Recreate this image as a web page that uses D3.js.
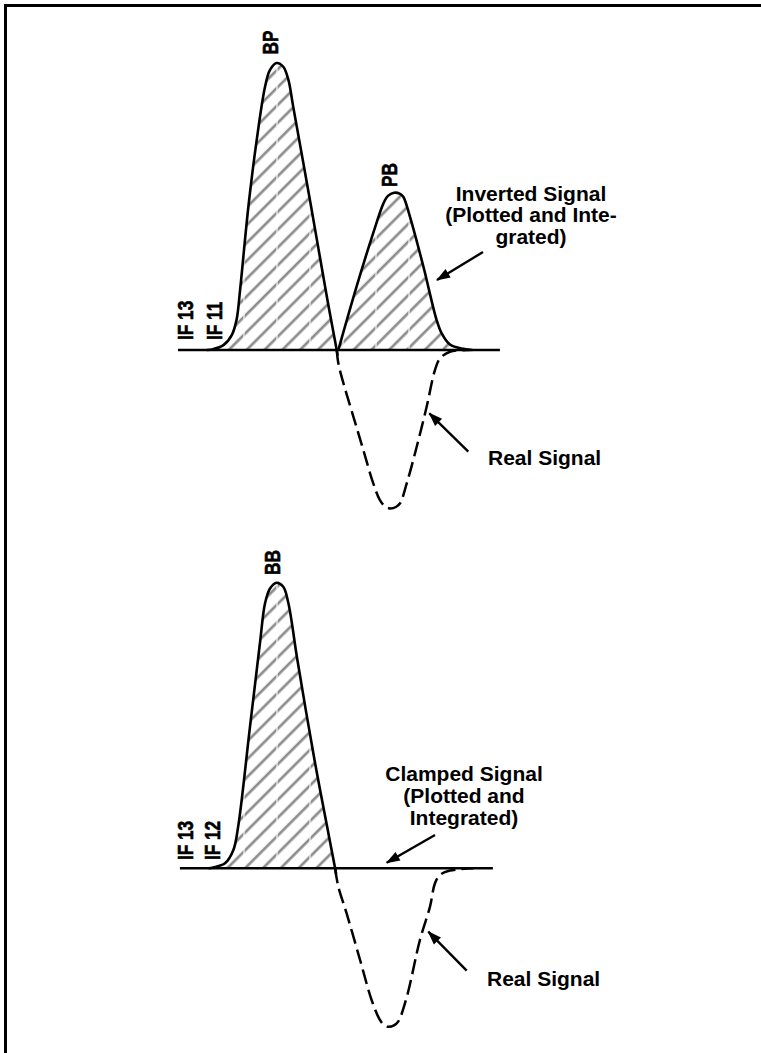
<!DOCTYPE html>
<html><head><meta charset="utf-8">
<script src="https://cdn.jsdelivr.net/npm/d3@7"></script>
<style>html,body{margin:0;padding:0;background:#fff}svg{display:block}</style>
</head><body>
<script>
// ---------- data (time t, signal v) ----------
const topInvertedBP = [[9.0,0],[11.0,0.3],[14.2,1.7],[16.8,5.2],[18.3,10.5],[19.4,20.9],[22.0,50.0],[24.6,73.2],[27.2,91.7],[28.75,97.6],[30.8,100],[32.9,98.7],[34.5,94.1],[36.0,84.8],[41.6,49.9],[46.7,17.4],[49.6,0],[49.9,-2]];
const topInvertedPB = [[50.1,0],[55.8,22.1],[61.0,40.7],[64.2,51.1],[65.6,53.7],[67.5,54.8],[69.4,54.4],[70.4,53.4],[72.5,46.4],[76.7,29.0],[80.8,10.5],[82.4,5.8],[85.0,1.9],[89.2,0.4],[92.0,0]];
const topRealSignal = [[49.6,0],[50.1,-4.6],[51.7,-11.6],[54.8,-23.2],[57.9,-34.8],[61.0,-46.4],[63.1,-52.3],[64.7,-54.5],[66.25,-55.2],[68.1,-54.7],[69.4,-53.4],[71.5,-46.4],[74.6,-33.7],[77.7,-19.8],[80.3,-7.0],[81.9,-2.9],[85.0,-0.6],[91.25,0]];
const bottomClampedBB = [[9.5,0],[11.0,0.3],[14.7,1.75],[17.3,6.4],[18.8,14.6],[22.5,49.6],[25.6,78.8],[27.2,92.8],[28.75,98.0],[30.8,100],[32.9,98.6],[34.5,92.8],[37.3,73.0],[42.65,38.0],[46.6,14.6],[49.1,0],[49.4,-2]];
const bottomRealSignal = [[49.1,0],[50.1,-6.4],[52.7,-15.8],[56.9,-32.1],[60.5,-46.1],[63.1,-53.1],[64.4,-54.9],[65.7,-55.5],[67.5,-55.0],[68.8,-53.7],[71.5,-45.0],[75.6,-25.1],[78.75,-13.4],[80.3,-5.25],[81.9,-2.3],[85.0,-0.8],[92.3,0]];
const topBaseline = [0, 100.6];
const bottomBaseline = [0.6, 98.4];
const topPeakLabels = [{name:"IF 13", t:4.8, v:3.5},{name:"IF 11", t:13.7, v:3.5},{name:"BP", t:31.3, v:103},{name:"PB", t:68.3, v:56.8}];
const bottomPeakLabels = [{name:"IF 13", t:4.7, v:2.9},{name:"IF 12", t:13.1, v:2.9},{name:"BB", t:31.9, v:102.7}];
const topNoteLines = ["Inverted Signal", "(Plotted and Inte-", "grated)"];
const bottomNoteLines = ["Clamped Signal", "(Plotted and", "Integrated)"];
const realLabel = "Real Signal";

// ---------- layout ----------
const W = 761, H = 1053;
const svg = d3.select("body").append("svg").attr("width", W).attr("height", H);
const x = d3.scaleLinear().domain([0, 100]).range([178, 498]);
const yTop = d3.scaleLinear().domain([0, 100]).range([350, 63]);
const yBot = d3.scaleLinear().domain([0, 100]).range([868.3, 582.7]);

const defs = svg.append("defs");
const pat = defs.append("pattern").attr("id", "hatch").attr("patternUnits", "userSpaceOnUse")
  .attr("width", 12.6).attr("height", 12.6).attr("patternTransform", "rotate(45)");
pat.append("line").attr("x1", 6).attr("y1", -1).attr("x2", 6).attr("y2", 14)
  .attr("stroke", "#8c8c8c").attr("stroke-width", 2.7);
defs.append("marker").attr("id", "arrow").attr("markerUnits", "userSpaceOnUse")
  .attr("viewBox", "-14 -6 16 12").attr("refX", 0).attr("refY", 0)
  .attr("markerWidth", 16).attr("markerHeight", 12).attr("orient", "auto")
  .append("path").attr("d", "M1,0 L-13,-5 L-13,5 Z").attr("fill", "#000");

// frame (top and left edges)
svg.append("line").attr("x1", 4).attr("y1", 5.5).attr("x2", W).attr("y2", 5.5).attr("stroke", "#000").attr("stroke-width", 3);
svg.append("line").attr("x1", 5.5).attr("y1", 4).attr("x2", 5.5).attr("y2", H).attr("stroke", "#000").attr("stroke-width", 3);

const curve = d3.curveCatmullRom.alpha(0.5);

function panel(y, filled, real, baseline, labels, id) {
  const g = svg.append("g");
  const area = d3.area().x(d => x(d[0])).y0(y(0)).y1(d => y(Math.max(0, d[1]))).curve(curve);
  const line = d3.line().x(d => x(d[0])).y(d => y(d[1])).curve(curve);
  const clip = defs.append("clipPath").attr("id", "clip" + id);
  filled.forEach(s => {
    g.append("path").attr("d", area(s)).attr("fill", "url(#hatch)");
    clip.append("path").attr("d", area(s));
  });
  // scan-like white vertical breaks in the hatching
  g.append("g").attr("clip-path", `url(#clip${id})`).selectAll("line")
    .data(d3.range(244, 480, 33)).join("line")
    .attr("x1", d => d).attr("x2", d => d).attr("y1", 0).attr("y2", H)
    .attr("stroke", "#fff").attr("stroke-width", 1.3).attr("opacity", 0.85);
  g.append("line").attr("x1", x(baseline[0])).attr("x2", x(baseline[1]))
    .attr("y1", y(0)).attr("y2", y(0)).attr("stroke", "#000").attr("stroke-width", 2.4);
  filled.forEach(s => {
    g.append("path").attr("d", line(s)).attr("fill", "none").attr("stroke", "#000").attr("stroke-width", 2.6);
  });
  g.append("path").attr("d", line(real)).attr("fill", "none").attr("stroke", "#000")
    .attr("stroke-width", 2.5).attr("stroke-dasharray", "15,6");
  labels.forEach(l => {
    g.append("text").attr("transform", `translate(${x(l.t)},${y(l.v)}) rotate(-90) scale(0.8,1)`)
      .attr("font-family", "Liberation Sans, Arial, sans-serif").attr("font-weight", "bold")
      .attr("font-size", 21.5).attr("fill", "#000").attr("stroke", "#000").attr("stroke-width", 0.6)
      .text(l.name);
  });
}
panel(yTop, [topInvertedBP, topInvertedPB], topRealSignal, topBaseline, topPeakLabels, "t");
panel(yBot, [bottomClampedBB], bottomRealSignal, bottomBaseline, bottomPeakLabels, "b");

function note(lines, cx, y0, dy, anchor) {
  const t = svg.append("text").attr("font-family", "Liberation Sans, Arial, sans-serif")
    .attr("font-weight", "bold").attr("font-size", 21).attr("fill", "#000").attr("text-anchor", anchor);
  lines.forEach((s, i) => t.append("tspan").attr("x", cx).attr("y", y0 + i * dy).text(s));
}
note(topNoteLines, 531, 200.5, 21.5, "middle");
note(bottomNoteLines, 464, 780.5, 22.3, "middle");
note([realLabel], 488, 465, 0, "start");
note([realLabel], 487, 986, 0, "start");

function arrow(x1, y1, x2, y2) {
  svg.append("line").attr("x1", x1).attr("y1", y1).attr("x2", x2).attr("y2", y2)
    .attr("stroke", "#000").attr("stroke-width", 2.4).attr("marker-end", "url(#arrow)");
}
arrow(483, 252, 437, 280);
arrow(468.3, 451.7, 429.3, 413.3);
arrow(435, 835, 386.7, 862.7);
arrow(466.7, 970.7, 428.3, 931.7);
</script>
</body></html>
